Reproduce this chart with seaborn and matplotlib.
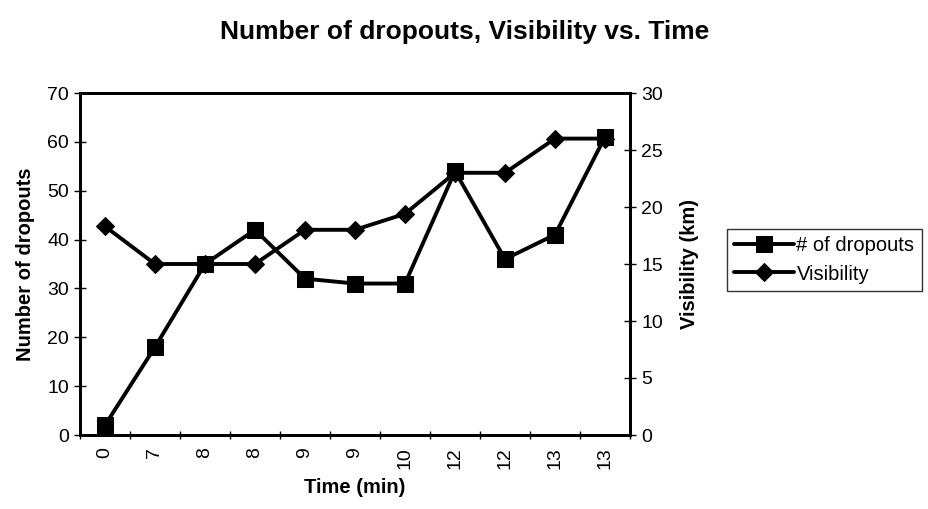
import matplotlib
matplotlib.use("Agg")
import matplotlib.pyplot as plt
import seaborn as sns
import pandas as pd
from matplotlib.ticker import FixedLocator, MultipleLocator

sns.set_theme(style="white")
plt.rcParams['font.family'] = ['Liberation Sans', 'DejaVu Sans']
plt.rcParams.update({"text.color": "black", "axes.labelcolor": "black",
                     "xtick.color": "black", "ytick.color": "black"})

time_labels = ["0", "7", "8", "8", "9", "9", "10", "12", "12", "13", "13"]
dropouts = [2, 18, 35, 42, 32, 31, 31, 54, 36, 41, 61]
visibility = [18.3, 15, 15, 15, 18, 18, 19.4, 23, 23, 26, 26]

df = pd.DataFrame({"pos": range(len(time_labels)), "dropouts": dropouts, "visibility": visibility})

fig = plt.figure(figsize=(9.29, 5.09), dpi=100)
ax = fig.add_axes([80/929, 1-435/509, 550/929, 342/509])
ax2 = ax.twinx()

sns.lineplot(data=df, x="pos", y="dropouts", ax=ax, color="black", linewidth=2.8,
             marker="s", markersize=11, markeredgecolor="black", markerfacecolor="black",
             sort=False, label="# of dropouts", legend=False)
sns.lineplot(data=df, x="pos", y="visibility", ax=ax2, color="black", linewidth=2.8,
             marker="D", markersize=9, markeredgecolor="black", markerfacecolor="black",
             sort=False, label="Visibility", legend=False)

ax.set_xlim(-0.5, len(time_labels) - 0.5)
ax.set_ylim(0, 70)
ax2.set_ylim(0, 30)
ax.yaxis.set_major_locator(MultipleLocator(10))
ax2.yaxis.set_major_locator(MultipleLocator(5))

ax.set_xticks(range(len(time_labels)))
ax.set_xticklabels(time_labels, rotation=90, fontsize=14)
ax.xaxis.set_minor_locator(FixedLocator([i - 0.5 for i in range(len(time_labels) + 1)]))
ax.tick_params(axis="x", which="major", length=0, pad=9)
ax.tick_params(axis="x", which="minor", length=6, width=1, direction="inout", bottom=True, color="black")
ax.tick_params(axis="y", length=8, width=1, direction="inout", left=True, labelsize=14, color="black", pad=4)
ax2.tick_params(axis="y", length=8, width=1, direction="inout", right=True, labelsize=14, color="black", pad=4)

for a in (ax, ax2):
    for s in a.spines.values():
        s.set_color("black")
        s.set_linewidth(2)

ax.set_xlabel("Time (min)", fontsize=14.5, fontweight="bold", labelpad=6)
ax.set_ylabel("Number of dropouts", fontsize=14.5, fontweight="bold", labelpad=9)
ax2.set_ylabel("Visibility (km)", fontsize=14.5, fontweight="bold", labelpad=12)

fig.suptitle("Number of dropouts, Visibility vs. Time", fontsize=19, fontweight="bold", x=0.5, y=0.96)

h1, l1 = ax.get_legend_handles_labels()
h2, l2 = ax2.get_legend_handles_labels()
leg = fig.legend(h1 + h2, l1 + l2, loc="center left", bbox_to_anchor=(727/929, 1-260/509),
                 frameon=True, fancybox=False, shadow=False, fontsize=14.5, handlelength=3.0,
                 handletextpad=0.1, borderpad=0.35, labelspacing=0.45, borderaxespad=0)
leg.get_frame().set_edgecolor("black")
leg.get_frame().set_linewidth(1)

fig.savefig("out.png", dpi=100)
